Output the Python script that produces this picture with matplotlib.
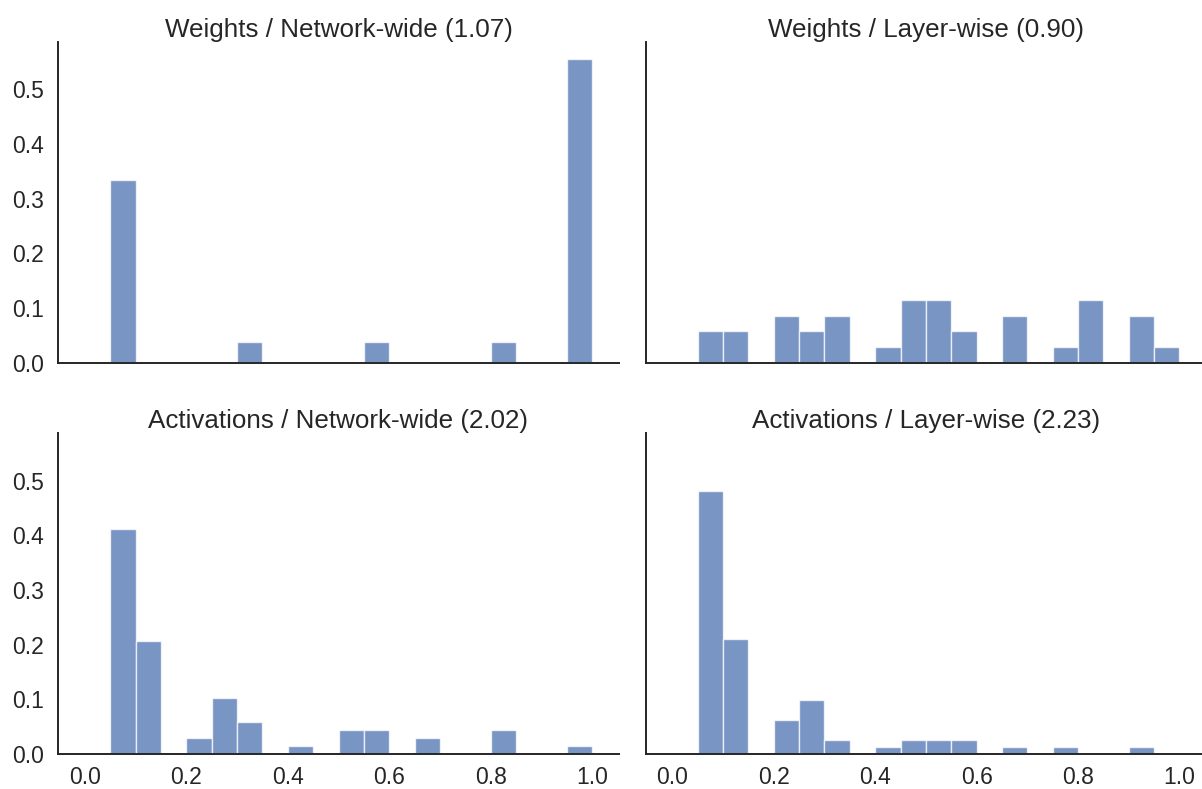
import numpy as np
import matplotlib
matplotlib.use("Agg")
import matplotlib.pyplot as plt

plt.rcParams['font.family'] = ['Liberation Sans', 'DejaVu Sans']

# bin edges: 20 bins of width 0.05 between 0 and 1
bin_edges = [round(0.05 * i, 2) for i in range(21)]

titles = [
    "Weights / Network-wide (1.07)",
    "Weights / Layer-wise (0.90)",
    "Activations / Network-wide (2.02)",
    "Activations / Layer-wise (2.23)",
]

# counts per bin (index 0..19)
weights_network = [0, 9, 0, 0, 0, 0, 1, 0, 0, 0, 0, 1, 0, 0, 0, 0, 1, 0, 0, 15]
weights_layer = [0, 2, 2, 0, 3, 2, 3, 0, 1, 4, 4, 2, 0, 3, 0, 1, 4, 0, 3, 1]
acts_network = [0, 28, 14, 0, 2, 7, 4, 0, 1, 0, 3, 3, 0, 2, 0, 0, 3, 0, 0, 1]
acts_layer = [0, 39, 17, 0, 5, 8, 2, 0, 1, 2, 2, 2, 0, 1, 0, 1, 0, 0, 1, 0]

series = [weights_network, weights_layer, acts_network, acts_layer]

yticks = [0.0, 0.1, 0.2, 0.3, 0.4, 0.5]
xticks = [0.0, 0.2, 0.4, 0.6, 0.8, 1.0]

W, H = 1202, 789
fig = plt.figure(figsize=(W / 100, H / 100), dpi=100)

lefts = [58.3 / W, 645.7 / W]
width = 560.4 / W
bottoms = [1 - 362.7 / H, 1 - 754.0 / H]
height = 321.0 / H

spine_color = '#262626'
bar_color = '#4C72B0'

for k, counts in enumerate(series):
    r, c = divmod(k, 2)
    ax = fig.add_axes([lefts[c], bottoms[r], width, height])
    counts = np.array(counts, dtype=float)
    probs = counts / counts.sum()
    edges = np.array(bin_edges)
    ax.bar(edges[:-1], probs, width=np.diff(edges), align='edge',
           color=bar_color, alpha=0.75, edgecolor='white', linewidth=1.0)
    ax.set_xlim(-0.0525, 1.0525)
    ax.set_ylim(0, 0.587)
    for s in ['top', 'right']:
        ax.spines[s].set_visible(False)
    for s in ['left', 'bottom']:
        ax.spines[s].set_color(spine_color)
        ax.spines[s].set_linewidth(1.4)
    ax.set_xticks(xticks)
    ax.set_yticks(yticks)
    ax.set_xticklabels([f"{v:.1f}" for v in xticks])
    ax.set_yticklabels([f"{v:.1f}" for v in yticks])
    ax.tick_params(length=0, labelsize=16.5, colors='#262626')
    ax.tick_params(axis='y', pad=10.5)
    ax.tick_params(axis='x', pad=9.0)
    if r == 0:
        ax.tick_params(labelbottom=False)
    if c == 1:
        ax.tick_params(labelleft=False)
    ax.set_title(titles[k], fontsize=18.7, color='#262626', pad=3.5)

fig.savefig("out.png", dpi=100)
